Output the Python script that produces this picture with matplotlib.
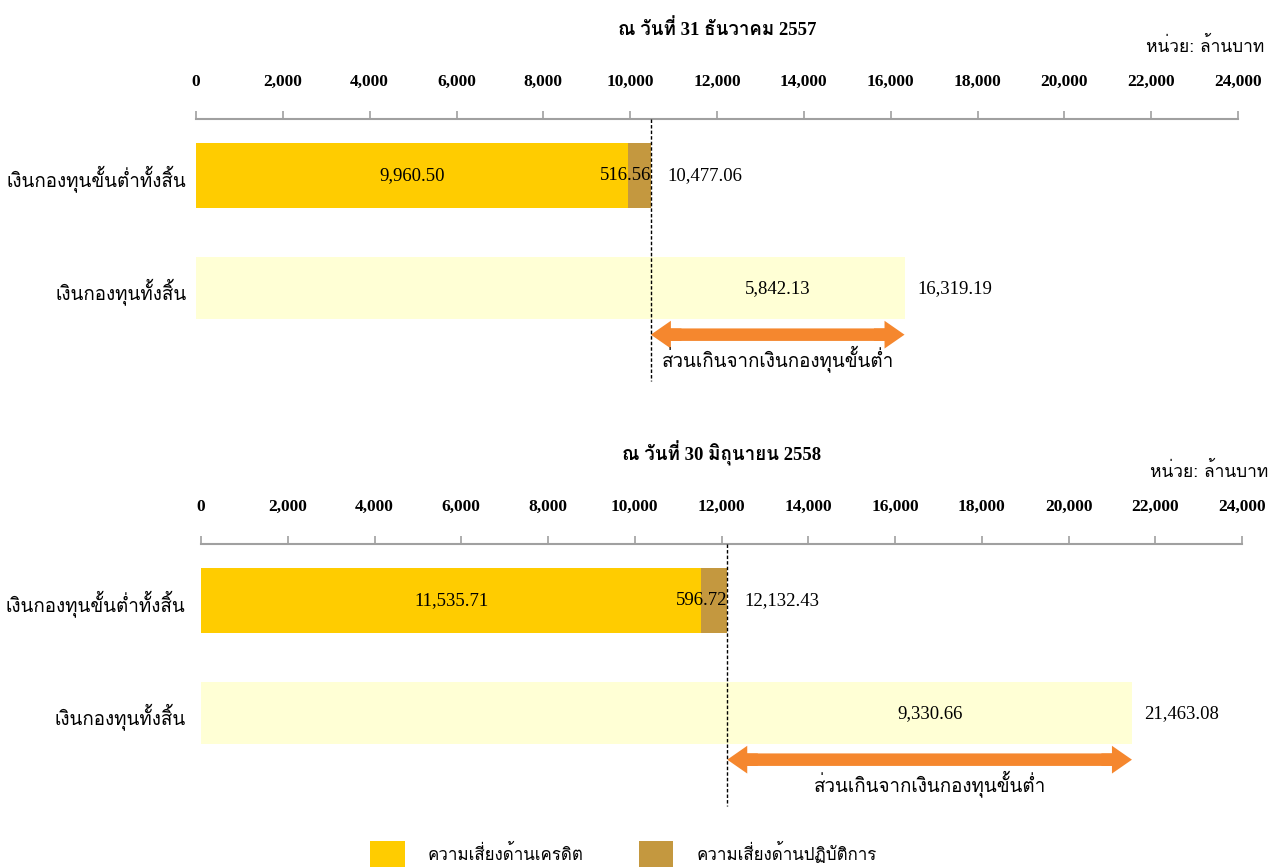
import matplotlib
matplotlib.use("Agg")
import matplotlib.pyplot as plt
from matplotlib.patches import Patch
from matplotlib.ticker import FuncFormatter

# data (ล้านบาท)
titles = ["ณ วันที่ 31 ธันวาคม 2557", "ณ วันที่ 30 มิถุนายน 2558"]
categories = ["เงินกองทุนขั้นต่ำทั้งสิ้น", "เงินกองทุนทั้งสิ้น"]
credit_risk = [9960.50, 11535.71]
oper_risk = [516.56, 596.72]
min_capital = [10477.06, 12132.43]
total_capital = [16319.19, 21463.08]
excess = [5842.13, 9330.66]
unit_label = "หน่วย: ล้านบาท"
excess_label = "ส่วนเกินจากเงินกองทุนขั้นต่ำ"
legend_labels = ["ความเสี่ยงด้านเครดิต", "ความเสี่ยงด้านปฏิบัติการ"]

# colours
c_credit = "#FFCC00"
c_oper = "#C4983F"
c_total = "#FFFFD5"
c_arrow = "#F5872E"
c_axis = "#A0A0A0"

num_font = ["Liberation Serif", "Loma"]
thai_font = ["Loma", "DejaVu Sans"]
fs = 13.5

fig = plt.figure(figsize=(12.77, 8.67), dpi=100)

# [left, bottom, width, height] in figure fractions, plus label pad
panels = [
    ([196 / 1277, 1 - 390 / 867, 1042 / 1277, 271 / 867], 7),
    ([201 / 1277, 1 - 815 / 867, 1041 / 1277, 271 / 867], 11),
]

# tail width 0.45 * mutation_scale 20 = 9 pt, same as the shaft line width
head_style = "simple,head_length=0.72,head_width=1.0,tail_width=0.45"
shaft_lw = 9

for i, (rect, ypad) in enumerate(panels):
    ax = fig.add_axes(rect)
    ypos = [0, 1]

    # minimum capital bar: credit + operational
    ax.barh(ypos[0], credit_risk[i], height=0.57, color=c_credit, zorder=2)
    ax.barh(ypos[0], oper_risk[i], left=credit_risk[i], height=0.57,
            color=c_oper, zorder=2)
    # total capital bar
    ax.barh(ypos[1], total_capital[i], height=0.55, color=c_total, zorder=2)

    # labels on bars
    ax.text(credit_risk[i] / 2, ypos[0], f"{credit_risk[i]:,.2f}",
            ha="center", va="center", family=num_font, fontsize=fs, zorder=4)
    ax.text(min_capital[i], ypos[0], f"{oper_risk[i]:,.2f}",
            ha="right", va="center", family=num_font, fontsize=fs, zorder=4)
    ax.annotate(f"{min_capital[i]:,.2f}", xy=(min_capital[i], ypos[0]),
                xytext=(12, 0), textcoords="offset points",
                ha="left", va="center", family=num_font, fontsize=fs)
    ax.text((min_capital[i] + total_capital[i]) / 2, ypos[1],
            f"{excess[i]:,.2f}", ha="center", va="center",
            family=num_font, fontsize=fs, zorder=4)
    ax.annotate(f"{total_capital[i]:,.2f}", xy=(total_capital[i], ypos[1]),
                xytext=(9, 0), textcoords="offset points",
                ha="left", va="center", family=num_font, fontsize=fs)

    # dashed marker at minimum capital
    ax.vlines(min_capital[i], -0.5, 1.82, colors="black", linewidth=1,
              linestyles=(0, (2.5, 1.5)), zorder=5, clip_on=False)

    # excess arrow: thick shaft plus a short arrow head at each end
    lo, hi = min_capital[i], total_capital[i]
    ax.annotate("", xy=(hi, 1.41), xytext=(lo, 1.41),
                arrowprops=dict(arrowstyle="-", lw=shaft_lw, color=c_arrow,
                                shrinkA=12, shrinkB=12), zorder=3)
    for end, dx in [(lo, 22), (hi, -22)]:
        ax.annotate("", xy=(end, 1.41), xytext=(dx, 0),
                    textcoords="offset points",
                    arrowprops=dict(arrowstyle=head_style, mutation_scale=20,
                                    lw=0, color=c_arrow, shrinkA=0, shrinkB=0),
                    zorder=3)
    ax.text((lo + hi) / 2, 1.62, excess_label,
            ha="center", va="center", family=thai_font, fontsize=fs)

    # axes styling
    ax.set_xlim(0, 24000)
    ax.set_ylim(1.9, -0.5)
    ax.set_xticks(range(0, 24001, 2000))
    ax.xaxis.set_major_formatter(FuncFormatter(lambda v, p: f"{v:,.0f}"))
    ax.xaxis.tick_top()
    ax.tick_params(axis="x", direction="out", length=6, width=1.2,
                   color=c_axis, pad=15)
    for lab in ax.get_xticklabels():
        lab.set_family(num_font)
        lab.set_fontsize(12.5)
        lab.set_fontweight("bold")
    ax.set_yticks(ypos)
    ax.set_yticklabels(categories, family=thai_font, fontsize=fs)
    ax.tick_params(axis="y", length=0, pad=ypad)
    for side in ["bottom", "left", "right"]:
        ax.spines[side].set_visible(False)
    ax.spines["top"].set_color(c_axis)
    ax.spines["top"].set_linewidth(1.5)

    ax.annotate(titles[i], xy=(0.5, 1), xycoords="axes fraction",
                xytext=(0, 65), textcoords="offset points",
                ha="center", va="center", family=num_font,
                fontsize=fs, fontweight="bold")
    ax.annotate(unit_label, xy=(1, 1), xycoords="axes fraction",
                xytext=(19, 52), textcoords="offset points",
                ha="right", va="center", family=thai_font, fontsize=12.5)

handles = [Patch(facecolor=c_credit), Patch(facecolor=c_oper)]
fig.legend(handles, legend_labels, loc="center", bbox_to_anchor=(0.488, 0.014),
           ncol=2, frameon=False, prop={"family": thai_font, "size": 12.2},
           handlelength=2.05, handleheight=2.05, handletextpad=1.35,
           columnspacing=3.25)

fig.savefig("out.png", dpi=100)
